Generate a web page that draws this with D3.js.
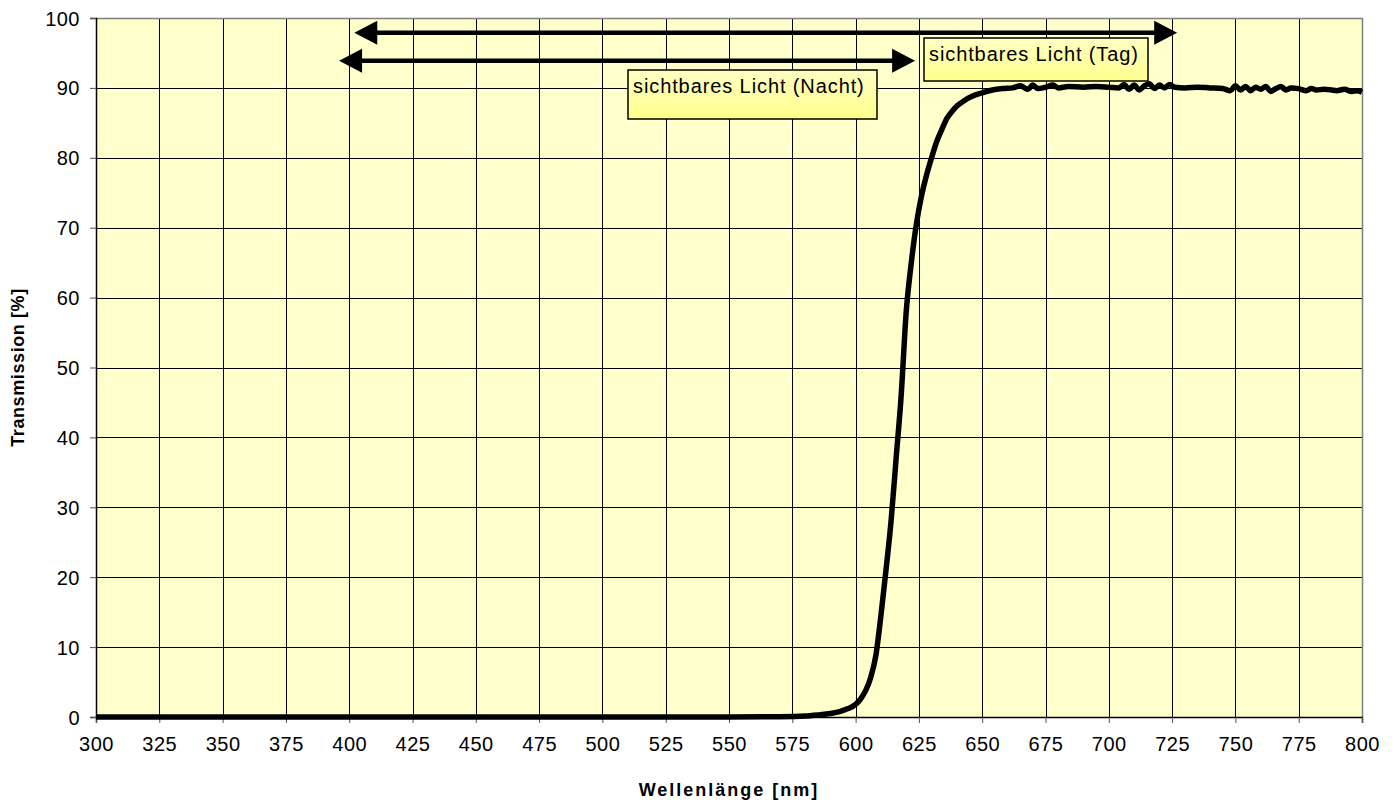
<!DOCTYPE html>
<html>
<head>
<meta charset="utf-8">
<script src="https://cdn.jsdelivr.net/npm/d3@7"></script>
<style>
  body { margin: 0; background: #fff; }
  text { font-family: Arial, "Liberation Sans", sans-serif; fill: #000; }
</style>
</head>
<body>
<div id="chart"></div>
<script>
// Wavelength (nm) and transmission (%)
var wavelengths = [300, 400, 500, 550, 570, 580, 585, 590, 594, 597, 600, 602, 604, 606, 608,
    610, 612, 614, 616, 618, 620, 622, 624, 626, 628, 630, 632, 634, 636, 638, 640, 643, 646,
    650, 654, 658, 662, 665, 668, 670, 672, 675, 678, 680, 684, 690, 695, 700, 704, 706, 708,
    710, 712, 714, 716, 718, 720, 722, 724, 726, 730, 735, 740, 745, 748, 750, 752, 754, 756,
    758, 760, 762, 764, 766, 768, 770, 772, 775, 778, 780, 782, 785, 788, 790, 793, 796, 798, 800];
var transmission = [0, 0, 0, 0, 0.05, 0.15, 0.3, 0.5, 0.8, 1.2, 1.8, 2.6, 3.8, 5.7, 8.8,
    14.5, 21, 28, 37, 46, 58, 65, 70.5, 74.5, 77.5, 80, 82.3, 84, 85.6, 86.6, 87.4, 88.2, 88.8,
    89.3, 89.7, 89.9, 90.0, 90.3, 89.8, 90.4, 89.9, 90.1, 90.4, 90.0, 90.2, 90.1, 90.2, 90.1, 90.0, 90.5, 89.8,
    90.4, 89.7, 90.3, 90.6, 89.9, 90.4, 90.0, 90.5, 90.1, 90.0, 90.1, 90.0, 89.9, 89.6, 90.3, 89.7, 90.2, 89.6,
    90.1, 89.8, 90.2, 89.5, 89.9, 90.2, 89.7, 90.0, 89.9, 89.6, 89.9, 89.7, 89.8, 89.7, 89.6, 89.8, 89.5, 89.6, 89.4];

var xTicks = d3.range(300, 801, 25);
var yTicks = d3.range(0, 101, 10);

// annotation arrows: [from nm, to nm, at %]
var arrowLabels = ["sichtbares Licht (Tag)", "sichtbares Licht (Nacht)"];
var arrowFrom = [402, 396];
var arrowTo = [727, 623.5];
var arrowLevel = [97.9, 93.9];

var W = 1398, H = 807;
var margin = { top: 18, right: 36, bottom: 90, left: 96 };
var iw = W - margin.left - margin.right;
var ih = H - margin.top - margin.bottom;

var svg = d3.select("#chart").append("svg")
    .attr("width", W)
    .attr("height", H);

var defs = svg.append("defs");
var grad = defs.append("linearGradient").attr("id", "boxFill")
    .attr("x1", 0).attr("y1", 0).attr("x2", 0).attr("y2", 1);
grad.append("stop").attr("offset", "0%").attr("stop-color", "#ffffc4");
grad.append("stop").attr("offset", "100%").attr("stop-color", "#ffff8c");

var g = svg.append("g").attr("transform", "translate(" + margin.left + "," + margin.top + ")");

var x = d3.scaleLinear().domain([300, 800]).range([0, iw]);
var y = d3.scaleLinear().domain([0, 100]).range([ih, 0]);

// plot background
g.append("rect")
    .attr("width", iw).attr("height", ih)
    .attr("fill", "#ffffcc");

// grid
g.append("g").selectAll("line").data(xTicks.slice(1, -1)).enter().append("line")
    .attr("x1", d => Math.round(x(d)) + 0.5).attr("x2", d => Math.round(x(d)) + 0.5)
    .attr("y1", 0).attr("y2", ih)
    .attr("stroke", "#000").attr("stroke-width", 1);
g.append("g").selectAll("line").data(yTicks.slice(1, -1)).enter().append("line")
    .attr("y1", d => Math.round(y(d)) + 0.5).attr("y2", d => Math.round(y(d)) + 0.5)
    .attr("x1", 0).attr("x2", iw)
    .attr("stroke", "#000").attr("stroke-width", 1);

// grey frame on top and right
g.append("path")
    .attr("d", "M0,0.5H" + (iw + 0.5) + "V" + ih)
    .attr("fill", "none").attr("stroke", "#808080").attr("stroke-width", 1.5);

// axes
var xAxis = g.append("g")
    .attr("transform", "translate(0," + ih + ")")
    .call(d3.axisBottom(x).tickValues(xTicks).tickSize(6).tickPadding(14).tickFormat(d3.format("d")));
var yAxis = g.append("g")
    .call(d3.axisLeft(y).tickValues(yTicks).tickSize(6).tickPadding(10).tickFormat(d3.format("d")));

[xAxis, yAxis].forEach(function(a) {
    a.select(".domain").attr("stroke", "#000").attr("stroke-width", 1.5);
    a.selectAll(".tick line").attr("stroke", "#555");
    a.selectAll(".tick text")
        .style("font-size", "20px")
        .style("letter-spacing", "0.5px")
        .attr("font-family", null);
});
xAxis.selectAll(".tick text").attr("dy", "0.72em");
yAxis.selectAll(".tick text").attr("dy", "0.35em");

// axis titles
svg.append("text")
    .attr("x", margin.left + iw / 2)
    .attr("y", 796)
    .attr("text-anchor", "middle")
    .style("font-size", "18px")
    .style("font-weight", "bold")
    .style("letter-spacing", "2px")
    .text("Wellenlänge [nm]");

svg.append("text")
    .attr("transform", "translate(24," + (margin.top + ih / 2) + ") rotate(-90)")
    .attr("text-anchor", "middle")
    .style("font-size", "18px")
    .style("font-weight", "bold")
    .style("letter-spacing", "0.6px")
    .text("Transmission [%]");

// transmission curve
var line = d3.line()
    .x((d, i) => x(wavelengths[i]))
    .y(d => y(d))
    .curve(d3.curveMonotoneX);

g.append("path")
    .datum(transmission)
    .attr("d", line)
    .attr("fill", "none")
    .attr("stroke", "#000")
    .attr("stroke-width", 5.5)
    .attr("stroke-linejoin", "round");

// double-headed arrows
var headLen = 23, headHalf = 12;
arrowLabels.forEach(function(lbl, i) {
    var x0 = x(arrowFrom[i]), x1 = x(arrowTo[i]), yy = y(arrowLevel[i]);
    g.append("line")
        .attr("x1", x0 + headLen - 2).attr("x2", x1 - headLen + 2)
        .attr("y1", yy).attr("y2", yy)
        .attr("stroke", "#000").attr("stroke-width", 4.5);
    g.append("path")
        .attr("d", "M" + x0 + "," + yy + "L" + (x0 + headLen) + "," + (yy - headHalf) +
            "L" + (x0 + headLen) + "," + (yy + headHalf) + "Z")
        .attr("fill", "#000");
    g.append("path")
        .attr("d", "M" + x1 + "," + yy + "L" + (x1 - headLen) + "," + (yy - headHalf) +
            "L" + (x1 - headLen) + "," + (yy + headHalf) + "Z")
        .attr("fill", "#000");
});

// label boxes (Tag / Nacht)
var boxes = [
    { text: arrowLabels[0], x: 924, y: 38, w: 224, h: 43 },
    { text: arrowLabels[1], x: 628, y: 70, w: 249, h: 49 }
];
boxes.forEach(function(b) {
    svg.append("rect")
        .attr("x", b.x).attr("y", b.y).attr("width", b.w).attr("height", b.h)
        .attr("fill", "url(#boxFill)")
        .attr("stroke", "#000").attr("stroke-width", 1.5);
    svg.append("text")
        .attr("x", b.x + 5).attr("y", b.y + 23)
        .style("font-size", "20px")
        .style("letter-spacing", "0.9px")
        .text(b.text);
});
</script>
</body>
</html>
